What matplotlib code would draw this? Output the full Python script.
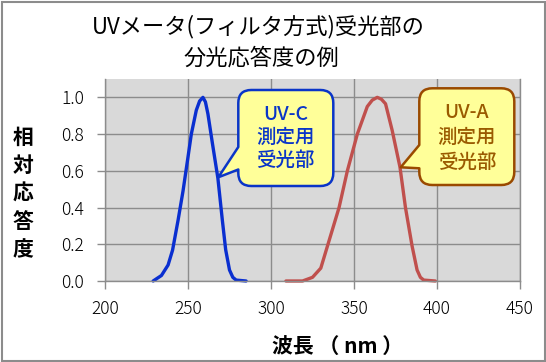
import matplotlib
matplotlib.use("Agg")
import matplotlib.pyplot as plt
from matplotlib.path import Path
from matplotlib.patches import PathPatch, Rectangle

plt.rcParams['font.family'] = ['Noto Sans CJK JP', 'DejaVu Sans']

# ---- data ----
uvc_wl = [229, 234, 238, 240.7, 244, 247, 250, 252, 255, 257, 259, 260.5, 262, 264.7, 268, 270.7, 272.7, 275, 277, 279, 285]
uvc_val = [0.0, 0.03, 0.087, 0.168, 0.33, 0.49, 0.675, 0.80, 0.93, 0.98, 1.0, 0.975, 0.91, 0.75, 0.56, 0.33, 0.17, 0.06, 0.02, 0.005, 0.0]
uva_wl = [309, 319, 325, 330, 335, 341, 346, 352, 358, 361, 364, 366.5, 369, 373, 377.7, 381, 385, 388, 390, 392, 399]
uva_val = [0.0, 0.0, 0.02, 0.07, 0.22, 0.40, 0.60, 0.80, 0.95, 0.985, 1.0, 0.99, 0.965, 0.82, 0.62, 0.40, 0.19, 0.06, 0.02, 0.005, 0.0]
x_ticks = [200, 250, 300, 350, 400, 450]
y_ticks = [0.0, 0.2, 0.4, 0.6, 0.8, 1.0]
y_tick_labels = ['0.0', '0.2', '0.4', '0.6', '0.8', '1.0']
title_lines = ['UVメータ(フィルタ方式)受光部の', '分光応答度の例']
x_label = '波長 （ nm ）'
y_label = '相対応答度'
uvc_label = ['UV-C', '測定用', '受光部']
uva_label = ['UV-A', '測定用', '受光部']

W, H = 546, 362
fig = plt.figure(figsize=(W / 100, H / 100), dpi=100)
fig.patch.set_facecolor('white')

def fx(px):
    return px / W

def fy(py):
    return 1 - py / H

# figure border
fig.patches.append(Rectangle((fx(1.5), fy(360.5)), fx(543), fy(1.5) - fy(360.5),
                             transform=fig.transFigure, fill=False, edgecolor='#8c8c8c', linewidth=1.5))

ax = fig.add_axes([fx(105), fy(281), fx(520) - fx(105), fy(79) - fy(281)])
ax.set_facecolor('#d9d9d9')
ax.set_xlim(200, 450)
ax.set_ylim(0, 1.1)

gc = '#8c8c8c'
ax.set_xticks(x_ticks)
ax.set_yticks(y_ticks)
ax.set_yticklabels(y_tick_labels)
ax.grid(True, color=gc, linewidth=1.0)
ax.set_axisbelow(True)
ax.spines['top'].set_visible(False)
for s in ['left', 'bottom', 'right']:
    ax.spines[s].set_color(gc)
    ax.spines[s].set_linewidth(1.0)
ax.tick_params(axis='both', direction='out', length=6, width=1.0, color=gc,
               labelsize=12.5, labelcolor='black')
ax.tick_params(axis='y', pad=9)
ax.tick_params(axis='x', pad=8)
for lab in ax.get_xticklabels() + ax.get_yticklabels():
    lab.set_fontweight('light')

ax.plot(uvc_wl, uvc_val, color='#0a2fd0', linewidth=2.4, solid_joinstyle='round', solid_capstyle='round', clip_on=False)
ax.plot(uva_wl, uva_val, color='#c0504d', linewidth=2.4, solid_joinstyle='round', solid_capstyle='round', clip_on=False)

# titles
fig.text(fx(258), fy(27), title_lines[0], ha='center', va='center', fontsize=16)
fig.text(fx(261), fy(58), title_lines[1], ha='center', va='center', fontsize=16)

# y label (vertical stacked characters)
for i, ch in enumerate(y_label):
    fig.text(fx(23), fy(137 + i * 28.3), ch, ha='center', va='center', fontsize=15, fontweight='bold')

fig.text(fx(338), fy(347), x_label, ha='center', va='center', fontsize=15, fontweight='bold')


def callout(left, right, top, bottom, r, b_top, b_bot, tip, fc, ec):
    pts = []
    codes = []
    def P(x, y):
        return (fx(x), fy(y))
    pts.append(P(left + r, top)); codes.append(Path.MOVETO)
    pts.append(P(right - r, top)); codes.append(Path.LINETO)
    pts += [P(right, top), P(right, top + r)]; codes += [Path.CURVE3, Path.CURVE3]
    pts.append(P(right, bottom - r)); codes.append(Path.LINETO)
    pts += [P(right, bottom), P(right - r, bottom)]; codes += [Path.CURVE3, Path.CURVE3]
    pts.append(P(left + r, bottom)); codes.append(Path.LINETO)
    pts += [P(left, bottom), P(left, bottom - r)]; codes += [Path.CURVE3, Path.CURVE3]
    pts.append(P(left, b_bot)); codes.append(Path.LINETO)
    pts.append(P(*tip)); codes.append(Path.LINETO)
    pts.append(P(left, b_top)); codes.append(Path.LINETO)
    pts.append(P(left, top + r)); codes.append(Path.LINETO)
    pts += [P(left, top), P(left + r, top)]; codes += [Path.CURVE3, Path.CURVE3]
    pts.append(P(left + r, top)); codes.append(Path.CLOSEPOLY)
    patch = PathPatch(Path(pts, codes), transform=fig.transFigure, facecolor=fc,
                      edgecolor=ec, linewidth=1.8, joinstyle='round')
    fig.patches.append(patch)

callout(238.3, 333.3, 90, 186, 13, 147, 169.5, (218.3, 177.3), '#ffff99', '#0a35c8')
callout(419.3, 514.3, 88.3, 185, 13, 145, 168.3, (400.7, 167.3), '#ffff99', '#9a4a00')

for i, t in enumerate(uvc_label):
    fig.text(fx(285.5), fy(115 + i * 22.5), t, ha='center', va='center', fontsize=14, color='#0a35c8', fontweight='medium')
for i, t in enumerate(uva_label):
    fig.text(fx(467), fy(113 + i * 24.5), t, ha='center', va='center', fontsize=14, color='#9a5a00', fontweight='medium')

fig.savefig('out.png', dpi=100, facecolor='white')
